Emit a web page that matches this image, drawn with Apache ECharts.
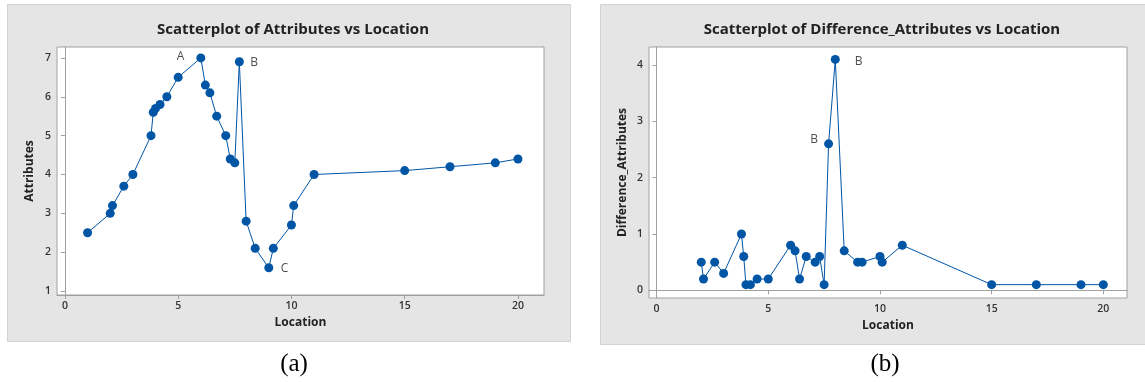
<!DOCTYPE html>
<html>
<head>
<meta charset="utf-8">
<script src="https://cdn.jsdelivr.net/npm/echarts@6/dist/echarts.min.js"></script>
<style>html,body{margin:0;padding:0;background:#fff}#c{width:1145px;height:382px}</style>
</head>
<body>
<div id="c"></div>
<script>
// ---- data (a) ----
const locA = [1, 2, 2.1, 2.6, 3, 3.8, 3.9, 4.0, 4.2, 4.5, 5, 6, 6.2, 6.4, 6.7, 7.1, 7.3, 7.5, 7.7, 8, 8.4, 9, 9.2, 10, 10.1, 11, 15, 17, 19, 20];
const attributes = [2.5, 3.0, 3.2, 3.7, 4.0, 5.0, 5.6, 5.7, 5.8, 6.0, 6.5, 7.0, 6.3, 6.1, 5.5, 5.0, 4.4, 4.3, 6.9, 2.8, 2.1, 1.6, 2.1, 2.7, 3.2, 4.0, 4.1, 4.2, 4.3, 4.4];
// ---- data (b) ----
const locB = [2, 2.1, 2.6, 3, 3.8, 3.9, 4.0, 4.2, 4.5, 5, 6, 6.2, 6.4, 6.7, 7.1, 7.3, 7.5, 7.7, 8, 8.4, 9, 9.2, 10, 10.1, 11, 15, 17, 19, 20];
const diffAttributes = [0.5, 0.2, 0.5, 0.3, 1.0, 0.6, 0.1, 0.1, 0.2, 0.2, 0.8, 0.7, 0.2, 0.6, 0.5, 0.6, 0.1, 2.6, 4.1, 0.7, 0.5, 0.5, 0.6, 0.5, 0.8, 0.1, 0.1, 0.1, 0.1];
// ---- tick labels ----
const xTicks = [0, 5, 10, 15, 20];
const yTicksA = [1, 2, 3, 4, 5, 6, 7];
const yTicksB = [0, 1, 2, 3, 4];
// ---- annotations [x, y, text] ----
const notesA = [[5.1, 7.03, 'A'], [8.35, 6.88, 'B'], [9.7, 1.57, 'C']];
const notesB = [[9.05, 4.07, 'B'], [7.05, 2.68, 'B']];

const blue = '#0055a5';
const font = 'Open Sans';
const pairs = (xs, ys) => xs.map((x, i) => [x, ys[i]]);

function xAxis(gi, min, max, gap) {
  return {
    type: 'value', gridIndex: gi, min, max,
    name: 'Location', nameLocation: 'middle', nameGap: gap,
    nameTextStyle: { fontFamily: font, fontWeight: 'bold', fontSize: 12, color: '#222' },
    axisLine: { show: true, lineStyle: { color: '#a0a0a0' } },
    axisTick: { show: true, length: 4, customValues: xTicks, lineStyle: { color: '#a0a0a0' } },
    axisLabel: { customValues: xTicks, fontFamily: font, fontWeight: 600, fontSize: 10.5, color: '#333', margin: 6 },
    splitLine: { show: false }
  };
}
function yAxis(gi, min, max, ticks, name, gap) {
  return {
    type: 'value', gridIndex: gi, min, max,
    name, nameLocation: 'middle', nameGap: gap,
    nameTextStyle: { fontFamily: font, fontWeight: 'bold', fontSize: 12, color: '#222' },
    axisLine: { show: true, lineStyle: { color: '#a0a0a0' } },
    axisTick: { show: true, length: 4, customValues: ticks, lineStyle: { color: '#a0a0a0' } },
    axisLabel: { customValues: ticks, fontFamily: font, fontWeight: 600, fontSize: 10.5, color: '#333', margin: 6 },
    splitLine: { show: false }
  };
}
function noteSeries(xi, notes) {
  return {
    type: 'scatter', xAxisIndex: xi, yAxisIndex: xi, symbolSize: 0, silent: true,
    data: notes.map(n => ({ value: [n[0], n[1]], name: n[2] })),
    label: { show: true, position: 'inside', formatter: p => p.name, fontFamily: font, fontSize: 12, color: '#222' }
  };
}

const chart = echarts.init(document.getElementById('c'), null, { renderer: 'canvas' });
chart.setOption({
  backgroundColor: '#ffffff',
  animation: false,
  graphic: [
    { type: 'rect', z: -10, shape: { x: 7.5, y: 4.5, width: 563, height: 337 }, style: { fill: '#e5e5e5', stroke: '#d2d2d2', lineWidth: 1 } },
    { type: 'rect', z: -10, shape: { x: 600.5, y: 4.5, width: 560, height: 340 }, style: { fill: '#e5e5e5', stroke: '#d2d2d2', lineWidth: 1 } }
  ],
  title: [
    { text: 'Scatterplot of Attributes vs Location', left: 288, top: 17, textAlign: 'center', textStyle: { fontFamily: font, fontWeight: 'bold', fontSize: 15, color: '#222' } },
    { text: 'Scatterplot of Difference_Attributes vs Location', left: 877, top: 17, textAlign: 'center', textStyle: { fontFamily: font, fontWeight: 'bold', fontSize: 15, color: '#222' } },
    { text: '(a)', left: 289, top: 347, textAlign: 'center', textStyle: { fontFamily: 'Liberation Serif', fontWeight: 'normal', fontSize: 25, color: '#000' } },
    { text: '(b)', left: 880, top: 347, textAlign: 'center', textStyle: { fontFamily: 'Liberation Serif', fontWeight: 'normal', fontSize: 25, color: '#000' } }
  ],
  grid: [
    { left: 57, top: 47, right: 601, bottom: 87, show: true, backgroundColor: '#fff', borderColor: '#a0a0a0', borderWidth: 1 },
    { left: 649, top: 47, right: 18, bottom: 84, show: true, backgroundColor: '#fff', borderColor: '#a0a0a0', borderWidth: 1 }
  ],
  xAxis: [xAxis(0, -0.35, 21.15, 19), xAxis(1, -0.34, 21.06, 20)],
  yAxis: [yAxis(0, 0.9, 7.28, yTicksA, 'Attributes', 21), yAxis(1, -0.137, 4.32, yTicksB, 'Difference_Attributes', 20)],
  series: [
    { type: 'line', xAxisIndex: 0, yAxisIndex: 0, data: pairs(locA, attributes), symbol: 'circle', symbolSize: 9, showAllSymbol: true,
      lineStyle: { color: blue, width: 1 }, itemStyle: { color: blue } },
    { type: 'line', xAxisIndex: 1, yAxisIndex: 1, data: pairs(locB, diffAttributes), symbol: 'circle', symbolSize: 9, showAllSymbol: true,
      lineStyle: { color: blue, width: 1 }, itemStyle: { color: blue } },
    noteSeries(0, notesA),
    noteSeries(1, notesB)
  ]
});
</script>
</body>
</html>
